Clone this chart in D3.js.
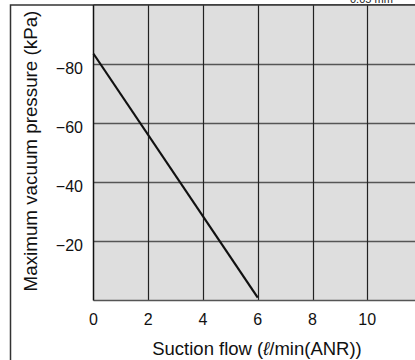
<!DOCTYPE html>
<html>
<head>
<meta charset="utf-8">
<script src="https://cdn.jsdelivr.net/npm/d3@7"></script>
<style>
  body { margin: 0; background: #fff; }
  svg { display: block; font-family: "Liberation Sans", Arial, sans-serif; }
</style>
</head>
<body>
<div class="canvas"></div>
<script>
// data
var flowValues = [0, 6.0];
var pressureValues = [-83.5, -1];
var xTicks = [0, 2, 4, 6, 8, 10];
var yTicks = [-20, -40, -60, -80];
var xGrid = [2, 4, 6, 8, 10, 12];
var yGrid = [-20, -40, -60, -80];

var width = 415, height = 360;
var plotLeft = 93.5, plotRight = 422, plotTop = 5, plotBottom = 300.5;

var svg = d3.select('.canvas').append('svg')
  .attr('width', width)
  .attr('height', height);

var x = d3.scaleLinear().domain([0, 12]).range([plotLeft, plotRight]);
var y = d3.scaleLinear().domain([0, -100]).range([plotBottom, plotTop]);

// outer frame
svg.append('rect')
  .attr('x', 10.5).attr('y', 5)
  .attr('width', 420).attr('height', 370)
  .attr('fill', 'none')
  .attr('stroke', '#333')
  .attr('stroke-width', 1.5);

// plot background
svg.append('rect')
  .attr('x', plotLeft).attr('y', plotTop)
  .attr('width', plotRight - plotLeft).attr('height', plotBottom - plotTop)
  .attr('fill', '#dedede');

// horizontal grid
svg.append('g').selectAll('line')
  .data(yGrid).enter().append('line')
  .attr('x1', plotLeft).attr('x2', plotRight)
  .attr('y1', function(d) { return Math.round(y(d)) + 0.5; })
  .attr('y2', function(d) { return Math.round(y(d)) + 0.5; })
  .attr('stroke', '#555')
  .attr('stroke-width', 1.5);

// vertical grid
svg.append('g').selectAll('line')
  .data(xGrid).enter().append('line')
  .attr('x1', function(d) { return Math.round(x(d)) + 0.5; })
  .attr('x2', function(d) { return Math.round(x(d)) + 0.5; })
  .attr('y1', plotTop).attr('y2', plotBottom)
  .attr('stroke', '#222')
  .attr('stroke-width', 1.2);

// bottom axis line
svg.append('line')
  .attr('x1', plotLeft).attr('x2', plotRight)
  .attr('y1', plotBottom).attr('y2', plotBottom)
  .attr('stroke', '#555')
  .attr('stroke-width', 1.5);

// left axis line
svg.append('line')
  .attr('x1', plotLeft).attr('x2', plotLeft)
  .attr('y1', plotTop).attr('y2', plotBottom)
  .attr('stroke', '#111')
  .attr('stroke-width', 1.5);

// top line
svg.append('line')
  .attr('x1', plotLeft).attr('x2', plotRight)
  .attr('y1', plotTop).attr('y2', plotTop)
  .attr('stroke', '#333')
  .attr('stroke-width', 1.5);

// data line
var pts = flowValues.map(function(d, i) { return [d, pressureValues[i]]; });
svg.append('path')
  .datum(pts)
  .attr('d', d3.line()
    .x(function(d) { return x(d[0]); })
    .y(function(d) { return y(d[1]); }))
  .attr('fill', 'none')
  .attr('stroke', '#111')
  .attr('stroke-width', 2.2);

// tick labels
svg.append('g').selectAll('text')
  .data(xTicks).enter().append('text')
  .attr('x', function(d) { return x(d); })
  .attr('y', 325)
  .attr('text-anchor', 'middle')
  .attr('font-size', 16)
  .attr('fill', '#111')
  .text(function(d) { return d; });

svg.append('g').selectAll('text')
  .data(yTicks).enter().append('text')
  .attr('x', 83)
  .attr('y', function(d) { return y(d) + 10; })
  .attr('text-anchor', 'end')
  .attr('font-size', 16)
  .attr('fill', '#111')
  .text(function(d) { return '\u2212' + Math.abs(d); });

// axis titles
svg.append('text')
  .attr('x', 257).attr('y', 355)
  .attr('text-anchor', 'middle')
  .attr('font-size', 18.5)
  .attr('fill', '#111')
  .html('Suction flow (<tspan font-style="italic">\u2113</tspan>/min(ANR))');

svg.append('text')
  .attr('transform', 'translate(37,151) rotate(-90)')
  .attr('text-anchor', 'middle')
  .attr('font-size', 18.8)
  .attr('fill', '#111')
  .text('Maximum vacuum pressure (kPa)');

// note at top right, cut by the picture edge
svg.append('text')
  .attr('x', 350).attr('y', 3)
  .attr('font-size', 11)
  .attr('fill', '#222')
  .text('0.05 mm');
</script>
</body>
</html>
